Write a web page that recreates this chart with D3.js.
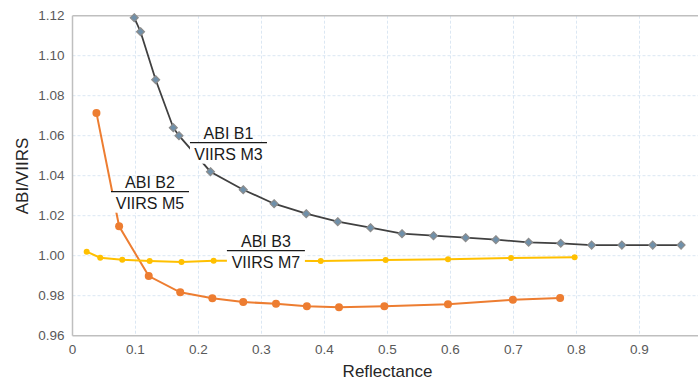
<!DOCTYPE html>
<html>
<head>
<meta charset="utf-8">
<script src="https://cdn.jsdelivr.net/npm/d3@7"></script>
<style>
  body { margin: 0; background: #fff; }
  svg { display: block; font-family: "Liberation Sans", Arial, sans-serif; }
</style>
</head>
<body>
<div id="container"></div>
<script>
const width = 698, height = 381;

// ABI B1 / VIIRS M3
const b1_x = [0.098, 0.108, 0.132, 0.160, 0.169, 0.219, 0.271, 0.320, 0.371, 0.421, 0.473, 0.523, 0.573, 0.624, 0.672, 0.724, 0.775, 0.824, 0.872, 0.921, 0.966];
const b1_y = [1.119, 1.112, 1.088, 1.064, 1.060, 1.042, 1.033, 1.026, 1.021, 1.017, 1.014, 1.011, 1.010, 1.009, 1.008, 1.0067, 1.0062, 1.0053, 1.0053, 1.0053, 1.0053];
// ABI B2 / VIIRS M5
const b2_x = [0.038, 0.074, 0.121, 0.171, 0.222, 0.271, 0.323, 0.372, 0.423, 0.495, 0.596, 0.699, 0.774];
const b2_y = [1.0714, 1.0147, 0.9898, 0.9817, 0.9787, 0.9768, 0.9760, 0.9747, 0.9742, 0.9747, 0.9757, 0.9780, 0.9788];
// ABI B3 / VIIRS M7
const b3_x = [0.0225, 0.044, 0.079, 0.1225, 0.173, 0.224, 0.394, 0.497, 0.596, 0.696, 0.797];
const b3_y = [1.002, 0.999, 0.998, 0.9974, 0.9968, 0.9975, 0.9974, 0.9979, 0.9982, 0.9988, 0.9992];

const xTicks = [0, 0.1, 0.2, 0.3, 0.4, 0.5, 0.6, 0.7, 0.8, 0.9];
const yTicks = [0.96, 0.98, 1.00, 1.02, 1.04, 1.06, 1.08, 1.10, 1.12];

const labels = [
  {top: "ABI B1", bottom: "VIIRS M3", x: 0.2476, y: 1.0565, w: 77},
  {top: "ABI B2", bottom: "VIIRS M5", x: 0.1230, y: 1.0320, w: 78},
  {top: "ABI B3", bottom: "VIIRS M7", x: 0.3070, y: 1.0025, w: 78}
];

const x = d3.scaleLinear().domain([0, 1]).range([72.5, 702.5]);
const y = d3.scaleLinear().domain([0.96, 1.12]).range([335.7, 15.7]);

const svg = d3.select("#container").append("svg")
  .attr("width", width)
  .attr("height", height);

// grid
svg.append("g").selectAll("line")
  .data(xTicks.slice(1))
  .enter().append("line")
  .attr("x1", d => x(d)).attr("x2", d => x(d))
  .attr("y1", y(1.12)).attr("y2", y(0.96))
  .attr("stroke", "#dbe7f3").attr("stroke-width", 1)
  .attr("stroke-dasharray", "3,2");
svg.append("g").selectAll("line")
  .data(yTicks.slice(1, -1))
  .enter().append("line")
  .attr("x1", x(0)).attr("x2", width)
  .attr("y1", d => y(d)).attr("y2", d => y(d))
  .attr("stroke", "#dbe7f3").attr("stroke-width", 1)
  .attr("stroke-dasharray", "3,2");

// frame
svg.append("line").attr("x1", x(0)).attr("x2", width).attr("y1", y(1.12)).attr("y2", y(1.12))
  .attr("stroke", "#bfbfbf").attr("stroke-width", 1.5);
svg.append("line").attr("x1", x(0)).attr("x2", width).attr("y1", y(0.96)).attr("y2", y(0.96))
  .attr("stroke", "#bfbfbf").attr("stroke-width", 1.5);
svg.append("line").attr("x1", x(0)).attr("x2", x(0)).attr("y1", y(1.12)).attr("y2", y(0.96))
  .attr("stroke", "#bfbfbf").attr("stroke-width", 1.5);

// tick labels
svg.append("g").selectAll("text")
  .data(yTicks)
  .enter().append("text")
  .attr("x", x(0) - 8)
  .attr("y", d => y(d) + 4.5)
  .attr("text-anchor", "end")
  .attr("font-size", 13.5).attr("fill", "#595959")
  .text(d => d3.format(".2f")(d));
svg.append("g").selectAll("text")
  .data(xTicks)
  .enter().append("text")
  .attr("x", d => x(d))
  .attr("y", 354)
  .attr("text-anchor", "middle")
  .attr("font-size", 13.5).attr("fill", "#595959")
  .text(d => d === 0 ? "0" : d3.format(".1f")(d));

// axis titles
svg.append("text")
  .attr("x", 387.5)
  .attr("y", 377)
  .attr("text-anchor", "middle")
  .attr("font-size", 17).attr("fill", "#262626")
  .text("Reflectance");
svg.append("text")
  .attr("transform", "translate(28,176) rotate(-90)")
  .attr("text-anchor", "middle")
  .attr("font-size", 17).attr("fill", "#262626")
  .text("ABI/VIIRS");

const line = d3.line().x(d => x(d[0])).y(d => y(d[1]));

function series(xs, ys, stroke, sw) {
  const pts = d3.zip(xs, ys);
  svg.append("path")
    .datum(pts)
    .attr("d", line)
    .attr("fill", "none")
    .attr("stroke", stroke)
    .attr("stroke-width", sw);
  return pts;
}

const p1 = series(b1_x, b1_y, "#404040", 1.8);
svg.append("g").selectAll("path")
  .data(p1).enter().append("path")
  .attr("d", d3.symbol().type(d3.symbolDiamond2).size(40))
  .attr("transform", d => `translate(${x(d[0])},${y(d[1])})`)
  .attr("fill", "#6f90aa").attr("stroke", "#8c8c8c").attr("stroke-width", 1.2);

const p2 = series(b2_x, b2_y, "#ed7d31", 2);
svg.append("g").selectAll("circle")
  .data(p2).enter().append("circle")
  .attr("cx", d => x(d[0])).attr("cy", d => y(d[1])).attr("r", 4)
  .attr("fill", "#ed7d31");

const p3 = series(b3_x, b3_y, "#ffc000", 2);
svg.append("g").selectAll("circle")
  .data(p3).enter().append("circle")
  .attr("cx", d => x(d[0])).attr("cy", d => y(d[1])).attr("r", 3)
  .attr("fill", "#ffc000");

// fraction labels, white backing under the denominator only
const lg = svg.append("g").selectAll("g")
  .data(labels).enter().append("g")
  .attr("transform", d => `translate(${x(d.x)},${y(d.y)})`);
lg.append("rect")
  .attr("x", d => -d.w / 2).attr("y", 0)
  .attr("width", d => d.w).attr("height", 21)
  .attr("fill", "#fff");
lg.append("text")
  .attr("y", -4).attr("text-anchor", "middle")
  .attr("font-size", 16).attr("fill", "#1a1a1a")
  .text(d => d.top);
lg.append("line")
  .attr("x1", d => -d.w / 2).attr("x2", d => d.w / 2)
  .attr("y1", 0).attr("y2", 0)
  .attr("stroke", "#1a1a1a").attr("stroke-width", 1.2);
lg.append("text")
  .attr("y", 17).attr("text-anchor", "middle")
  .attr("font-size", 16).attr("fill", "#1a1a1a")
  .text(d => d.bottom);
</script>
</body>
</html>
